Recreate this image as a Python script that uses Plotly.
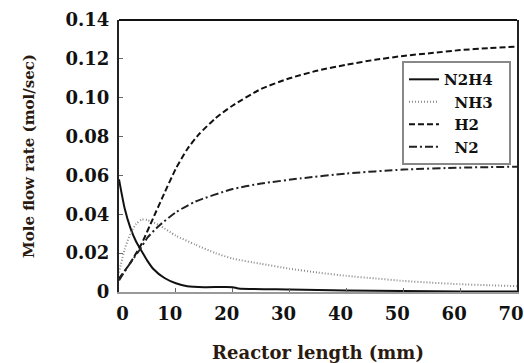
import plotly.graph_objects as go

# Reactor length (mm)
x_n2h4 = [0, 1, 2, 3, 4, 5, 6, 8, 10, 12, 15, 20, 21, 30, 40, 50, 60, 70]
y_n2h4 = [0.058, 0.043, 0.033, 0.026, 0.021, 0.016, 0.012, 0.0072, 0.0045, 0.003,
          0.0025, 0.0025, 0.0018, 0.0013, 0.0008, 0.0005, 0.0003, 0.0002]

x_nh3 = [0, 1, 2, 3, 4, 5, 7, 10, 13.4, 17, 20, 25, 30, 35, 40, 45, 50, 55, 60, 65, 70]
y_nh3 = [0.010, 0.022, 0.030, 0.035, 0.0373, 0.037, 0.0345, 0.029, 0.0244, 0.020,
         0.0172, 0.0145, 0.012, 0.010, 0.0083, 0.007, 0.0057, 0.0048, 0.004, 0.0035, 0.003]

x_h2 = [0, 2, 4, 6, 8, 10, 12, 14, 17, 20, 25, 30, 35, 40, 45, 50, 55, 60, 65, 70]
y_h2 = [0.007, 0.015, 0.025, 0.038, 0.051, 0.0635, 0.0735, 0.081, 0.0895, 0.096, 0.1045,
        0.110, 0.114, 0.117, 0.1195, 0.1215, 0.123, 0.1245, 0.1255, 0.1263]

x_n2 = [0, 2, 3.7, 5, 7, 10, 13.4, 20, 25, 32, 40, 50, 60, 70]
y_n2 = [0.006, 0.015, 0.022, 0.028, 0.034, 0.041, 0.0465, 0.053, 0.0558, 0.0585,
        0.061, 0.063, 0.064, 0.0645]

y_tickvals = [0, 0.02, 0.04, 0.06, 0.08, 0.10, 0.12, 0.14]
y_ticktext = ["0", "0.02", "0.04", "0.06", "0.08", "0.10", "0.12", "0.14"]
x_tickvals = [0, 10, 20, 30, 40, 50, 60, 70]
x_ticktext = ["\u00a0\u00a0\u00a00", "10", "20", "30", "40", "50", "60", "70"]

names = ["N2H4\u00a0\u00a0", "\u00a0\u00a0NH3", "\u00a0\u00a0H2", "\u00a0\u00a0N2"]

FONT = "DejaVu Serif"

fig = go.Figure()
fig.add_trace(go.Scatter(x=x_n2h4, y=y_n2h4, mode="lines", name=names[0],
                         line=dict(color="#111", width=2, shape="spline", smoothing=0.6)))
fig.add_trace(go.Scatter(x=x_nh3, y=y_nh3, mode="lines", name=names[1],
                         line=dict(color="#8a8a8a", width=2, dash="1px,2px", shape="spline", smoothing=0.6)))
fig.add_trace(go.Scatter(x=x_h2, y=y_h2, mode="lines", name=names[2],
                         line=dict(color="#111", width=2, dash="6px,3px", shape="spline", smoothing=0.6)))
fig.add_trace(go.Scatter(x=x_n2, y=y_n2, mode="lines", name=names[3],
                         line=dict(color="#222", width=2, dash="8px,3px,2px,3px", shape="spline", smoothing=0.6)))

fig.update_layout(
    width=524, height=363,
    margin=dict(l=119, r=7, t=20, b=71),
    paper_bgcolor="white", plot_bgcolor="white",
    font=dict(family=FONT, color="#111", size=16),
    showlegend=True,
    legend=dict(x=0.711, y=0.849, xanchor="left", yanchor="top",
                bgcolor="white", bordercolor="#888", borderwidth=2,
                font=dict(family=FONT, size=15, color="#111", weight="bold"),
                itemwidth=30, tracegroupgap=0),
    shapes=[dict(type="line", xref="paper", yref="paper", x0=0, x1=1, y0=1, y1=1,
                 line=dict(color="#111", width=2))],
)
fig.update_xaxes(range=[0, 70], tickvals=x_tickvals, ticktext=x_ticktext,
                 ticks="inside", ticklen=4,
                 tickcolor="#666", showgrid=False, zeroline=False, automargin=False,
                 showline=True, linecolor="#999", linewidth=2, mirror=False,
                 ticklabeloverflow="allow", ticklabelshift=-6, ticklabelstandoff=4,
                 tickfont=dict(family=FONT, size=18, color="#111", weight="bold"),
                 title=dict(text="Reactor length (mm)", standoff=28,
                            font=dict(family=FONT, size=18, color="#2a1a10", weight="bold")))
fig.update_yaxes(range=[0, 0.14], tickvals=y_tickvals, ticktext=y_ticktext,
                 ticks="inside", ticklen=4, tickcolor="#666", showgrid=False, zeroline=False,
                 showline=True, linecolor="#222", linewidth=2, mirror=True, automargin=False,
                 ticklabelstandoff=4,
                 tickfont=dict(family=FONT, size=18, color="#111", weight="bold"),
                 title=dict(text="Mole flow rate (mol/sec)", standoff=27,
                            font=dict(family=FONT, size=15, color="#2a1a10", weight="bold")))

fig.write_html("out.html")
